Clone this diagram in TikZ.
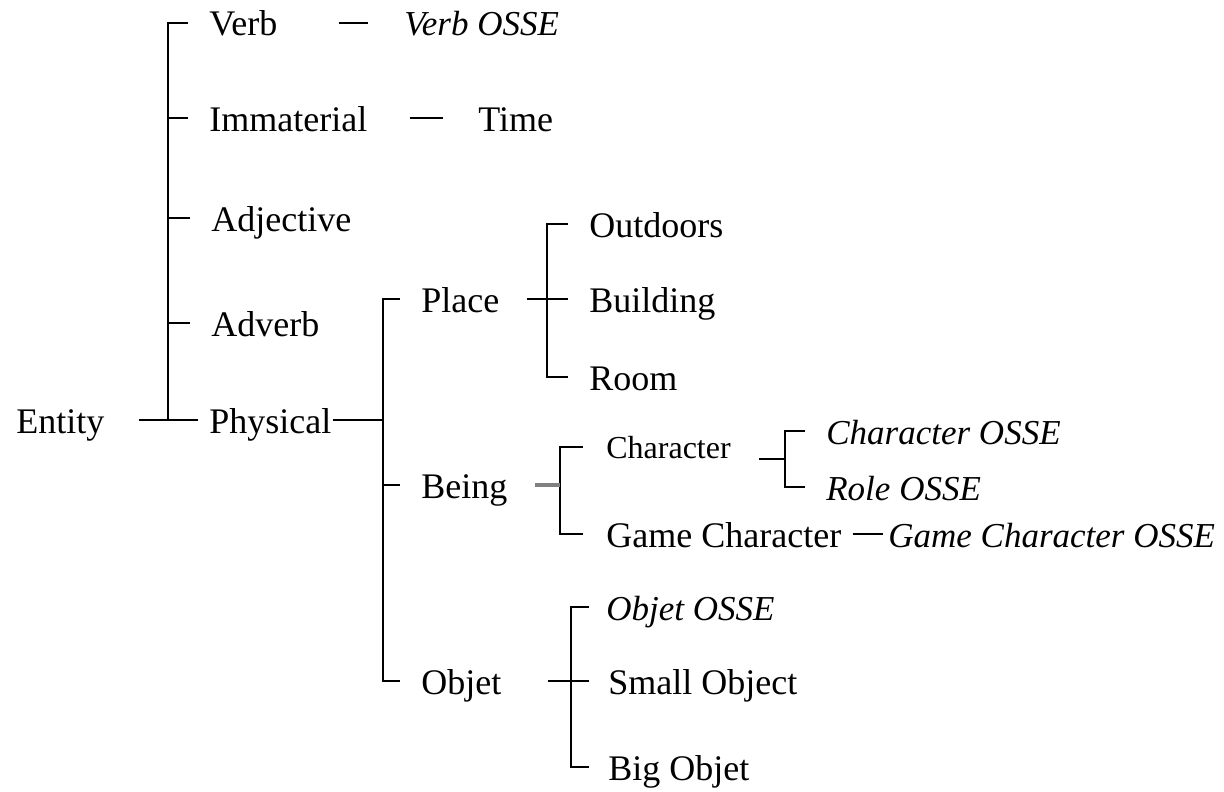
\documentclass[tikz,border=0pt]{standalone}
\usepackage{fontspec}
\setmainfont{Liberation Serif}
\usetikzlibrary{calc}
\tikzset{
  every picture/.style={line width=2.7pt, x=1pt, y=-1pt},
  lbl/.style={anchor=west, inner sep=0pt, text height=33pt, text depth=7pt, font=\fontsize{36}{40}\selectfont},
  lblsmall/.style={lbl, text height=29pt, text depth=6pt, font=\fontsize{32}{36}\selectfont},
  osse/.style={lbl, font=\fontsize{35}{40}\selectfont\itshape},
  fade/.style={draw=black!50, line width=3.6pt},
}

\begin{document}
\begin{tikzpicture}
  \useasboundingbox (0,0) rectangle (1224,792);
  % words of the tree
  \foreach \n/\x/\y/\t in {
    entity/15/420/Entity, verb/208/23/Verb, immat/208/118/Immaterial,
    adj/210/218/Adjective, adv/210/323/Adverb, phys/208/420/Physical,
    time/477/118/Time, place/420/299/Place, outdoors/588/224/Outdoors,
    building/588/299/Building, room/588/377/Room, being/420/485/Being,
    gamechar/605/534/{Game Character}, objet/420/681/Objet,
    small/607/681/{Small Object}, big/607/767/{Big Objet}} {
    \node[lbl] (\n) at (\x, \y) {\t};
  }
  \foreach \n/\x/\y/\t in {
    verbosse/403/23/{Verb OSSE}, charosse/825/431/{Character OSSE},
    roleosse/825/487/{Role OSSE}, gcosse/887/534/{Game Character OSSE},
    objosse/605/607/{Objet OSSE}} {
    \node[osse] (\n) at (\x, \y) {\t};
  }
  \node[lblsmall] (character) at (605, 447) {Character};
  % bars of the brackets
  \coordinate (b1) at (168, 0);
  \coordinate (b2) at (383, 0);
  \coordinate (b3) at (547, 0);
  \coordinate (b4) at (560, 0);
  \coordinate (b5) at (785, 0);
  \coordinate (b6) at (571, 0);
  \coordinate (c5) at ($(charosse.west)!0.5!(roleosse.west)$);
  % entity
  \draw ([xshift=-20pt]verb.west) -- (b1 |- verb.west) -- (b1 |- phys.west);
  \foreach \n in {immat, adj, adv} \draw (b1 |- \n.west) -- ([xshift=-20pt]\n.west);
  \draw ([xshift=33pt]entity.east) -- ([xshift=-10pt]phys.west);
  \draw ([xshift=60pt]verb.east) -- ([xshift=-35pt]verbosse.west);
  \draw ([xshift=41pt]immat.east) -- ([xshift=-34pt]time.west);
  % physical
  \draw ([xshift=-20pt]place.west) -- (b2 |- place.west) -- (b2 |- objet.west) -- ([xshift=-20pt]objet.west);
  \draw (b2 |- being.west) -- ([xshift=-20pt]being.west);
  \draw (phys.east) -- (b2 |- phys.east);
  % place
  \draw ([xshift=-20pt]outdoors.west) -- (b3 |- outdoors.west) -- (b3 |- room.west) -- ([xshift=-20pt]room.west);
  \draw ([xshift=26pt]place.east) -- ([xshift=-20pt]building.west);
  % being
  \draw ([xshift=-22pt]character.west) -- (b4 |- character.west) -- (b4 |- gamechar.west) -- ([xshift=-22pt]gamechar.west);
  \draw[fade] ([xshift=26pt]being.east) -- (b4 |- being.east);
  \draw ([xshift=-20pt]charosse.west) -- (b5 |- charosse.west) -- (b5 |- roleosse.west) -- ([xshift=-20pt]roleosse.west);
  \draw ($(character.east |- c5)+(27,0)$) -- (b5 |- c5);
  \draw ([xshift=10pt]gamechar.east) -- ([xshift=-4pt]gcosse.west);
  % objet
  \draw ([xshift=-16pt]objosse.west) -- (b6 |- objosse.west) -- (b6 |- big.west) -- ([xshift=-18pt]big.west);
  \draw ([xshift=45pt]objet.east) -- ([xshift=-18pt]small.west);
\end{tikzpicture}
\end{document}
